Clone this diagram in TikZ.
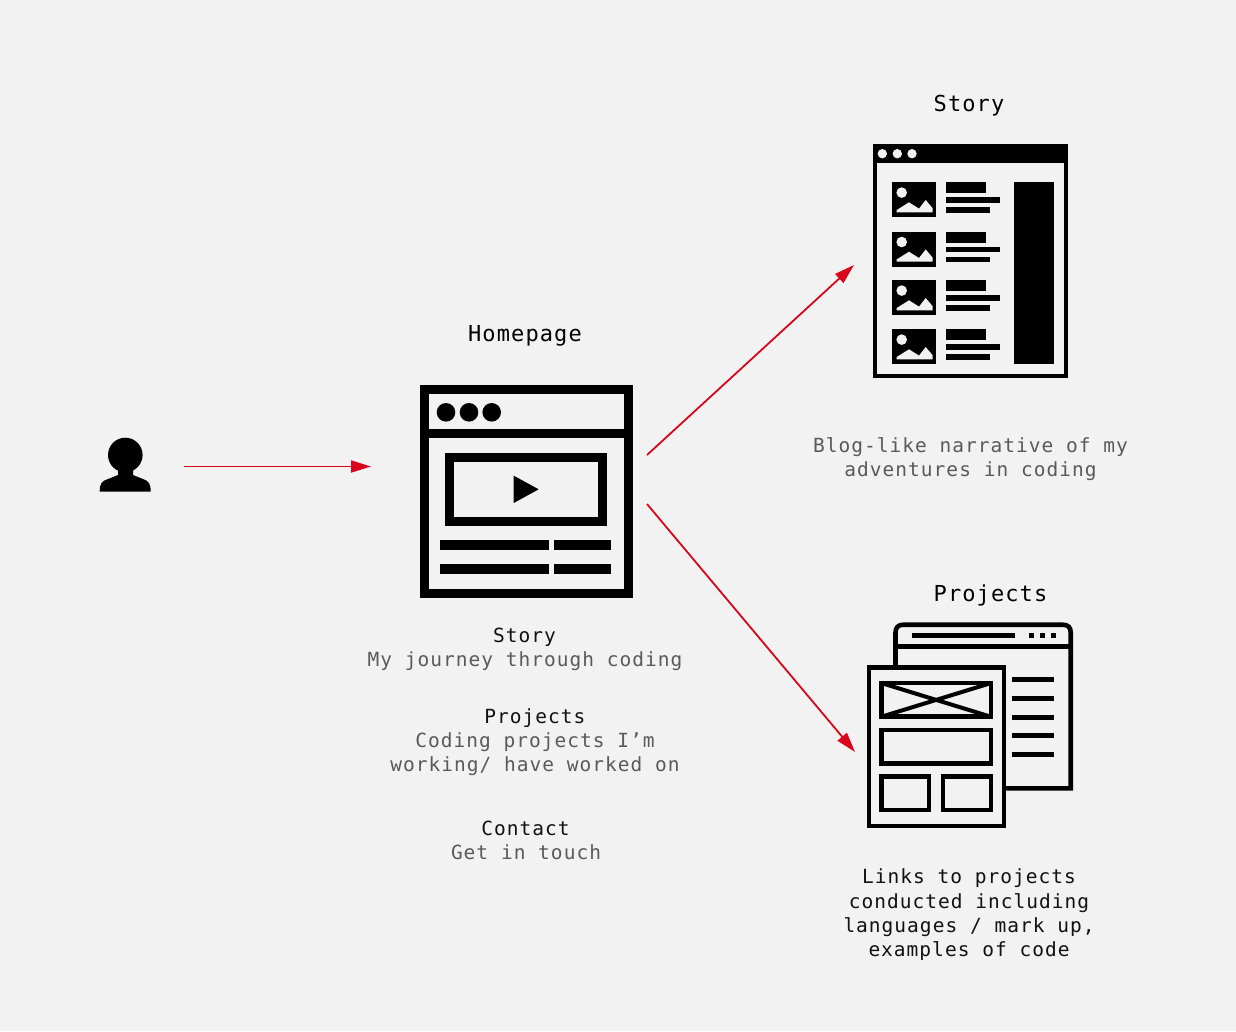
\documentclass[tikz,border=0pt]{standalone}
\usepackage{fontspec}
\usetikzlibrary{arrows.meta}
\newfontface\titlefont[LetterSpace=5]{DejaVu Sans Mono}
\newfontface\bodyfont[LetterSpace=5.2]{DejaVu Sans Mono}
\definecolor{bgc}{HTML}{F2F2F2}
\definecolor{redc}{HTML}{D9051C}
\definecolor{greyc}{HTML}{5A5A5A}
\definecolor{darkc}{HTML}{111111}
\tikzset{
  title/.style={text=black,font=\titlefont\fontsize{22}{26}\selectfont,inner sep=0pt,anchor=center},
  head/.style={text=darkc,font=\bodyfont\fontsize{19.5}{24.3}\selectfont,inner sep=0pt,anchor=center,align=center},
  desc/.style={text=greyc,font=\bodyfont\fontsize{19.5}{24.3}\selectfont,inner sep=0pt,anchor=center,align=center},
  flow/.style={draw=redc,line width=1.8pt,-{Triangle[length=20pt,width=12pt,color=redc]},shorten >=0pt},
  ink/.style={fill=black,draw=none},
  knock/.style={fill=bgc,draw=none},
  thin outline/.style={draw=black,line width=4.7pt,fill=none,line join=miter},
  frame/.style={draw=black,fill=none,inner sep=0pt,outer sep=0pt}
}
\begin{document}
\begin{tikzpicture}[x=1pt,y=-1pt]
\useasboundingbox (0,0) rectangle (1236,1031);
\fill[bgc] (0,0) rectangle (1236,1031);

% user
\fill[ink] (125.3,455) circle (17.3);
\fill[ink] (99.7,491.7) .. controls (99.7,483) and (102,481) .. (108,479)
  -- (118,475) -- (118,465) -- (133,465) -- (133,475) -- (143,479)
  .. controls (149,481) and (150.7,484) .. (150.7,491.7) -- cycle;
\node[inner sep=0pt,minimum width=51pt,minimum height=55pt] (user) at (125.2,464.5) {};

% homepage window
\node[frame,line width=9pt,minimum width=203.7pt,minimum height=203.7pt] (home) at (526.3,491.4) {};
\draw[black,line width=9.3pt] (home.west |- 0,433.6) -- (home.east |- 0,433.6);
\foreach \cx in {446,469,491.7} \fill[ink] (\cx,412.3) circle (9.3);
\node[frame,line width=8.8pt,minimum width=153.5pt,minimum height=63.9pt] (video) at (526.1,489.3) {};
\fill[ink] (513.7,475.7) -- (538.7,489.3) -- (513.7,503) -- cycle;
\fill[ink] (440.3,540.3) rectangle (548.7,549.7);
\fill[ink] (554,540.3) rectangle (611,549.7);
\fill[ink] (440.3,563.8) rectangle (548.7,573.6);
\fill[ink] (554,563.8) rectangle (611,573.6);

% story window
\node[frame,line width=4.6pt,minimum width=191pt,minimum height=229.7pt] (story) at (970.5,261.2) {};
\fill[ink] (872.7,144) rectangle (1068.3,163.3);
\foreach \cx in {882.3,897.3,912} \fill[bgc] (\cx,153.7) circle (4.7);
\fill[ink] (1014.3,182.3) rectangle (1053.7,364);
\foreach \ty in {182.3,231.7,280.3,329.3}{
  \begin{scope}[shift={(892,\ty)}]
    \fill[ink] (0,0) rectangle (44.3,35);
    \fill[knock] (9.7,10.3) circle (5.3);
    \fill[knock] (4.7,30) -- (4.7,27.7) -- (17,20) -- (27,26.3) -- (33.7,17.7) -- (40.7,26) -- (40.7,30) -- cycle;
    \fill[ink] (54,0) rectangle (93.7,11);
    \fill[ink] (54,15) rectangle (108,20.2);
    \fill[ink] (54,24.8) rectangle (98.3,30.2);
  \end{scope}
}

% projects icon: back window
\draw[black,line width=4.6pt,line join=miter] (895.5,667) -- (895.5,632.7)
  .. controls (895.5,627.4) and (898.2,624.7) .. (903.5,624.7) -- (1062.7,624.7)
  .. controls (1068,624.7) and (1070.7,627.4) .. (1070.7,632.7)
  -- (1070.7,788.3) -- (1005,788.3);
\draw[black,line width=4.6pt] (895.5,646.7) -- (1070.7,646.7);
\draw[black,line width=5pt] (912,635.7) -- (1015,635.7);
\foreach \cx in {1031.3,1042.3,1053.7} \fill[ink] (\cx-2.5,633.2) rectangle (\cx+2.5,638.2);
\foreach \ly in {679.3,698.7,717,735.3,754.7} \draw[black,line width=5pt] (1011.7,\ly) -- (1054,\ly);

% projects icon: front page
\node[frame,line width=4.8pt,minimum width=135pt,minimum height=158.8pt] (projects) at (936.5,746.6) {};
\draw[thin outline] (881.2,683) rectangle (991.1,716.8);
\draw[black,line width=4pt] (881.2,683) -- (991.1,716.8) (991.1,683) -- (881.2,716.8);
\draw[thin outline] (881.2,729.9) rectangle (991.1,763.5);
\draw[thin outline] (881.2,776.5) rectangle (929.1,810.1);
\draw[thin outline] (942.9,776.5) rectangle (991.1,810.1);

% connectors
\coordinate (c1a) at (184,466.5);
\coordinate (c1b) at (371,466.5);
\coordinate (c2a) at (647,455);
\coordinate (c2b) at (854,265);
\coordinate (c3a) at (647,504);
\coordinate (c3b) at (855,752);
\draw[flow] (c1a) -- (c1b);
\draw[flow] (c2a) -- (c2b);
\draw[flow] (c3a) -- (c3b);

% titles
\node[title] (t1) at (525,336) {Homepage};
\node[title] (t2) at (969,106) {Story};
\node[title] (t3) at (990.5,595) {Projects};

% homepage text
\node[head] (h1) at (524.5,637.5) {Story};
\node[desc] (d1) at (525,661.5) {My journey through coding};
\node[head] (h2) at (535,718.5) {Projects};
\node[desc] (d2) at (535,754.5) {Coding projects I’m\\working/ have worked on};
\node[head] (h3) at (525.5,828) {Contact};
\node[desc] (d3) at (526,852) {Get in touch};

% side text
\node[desc] (d4) at (970.5,459) {Blog-like narrative of my\\adventures in coding};
\node[head] (d5) at (969,915) {Links to projects\\conducted including\\languages / mark up,\\examples of code};
\end{tikzpicture}
\end{document}
